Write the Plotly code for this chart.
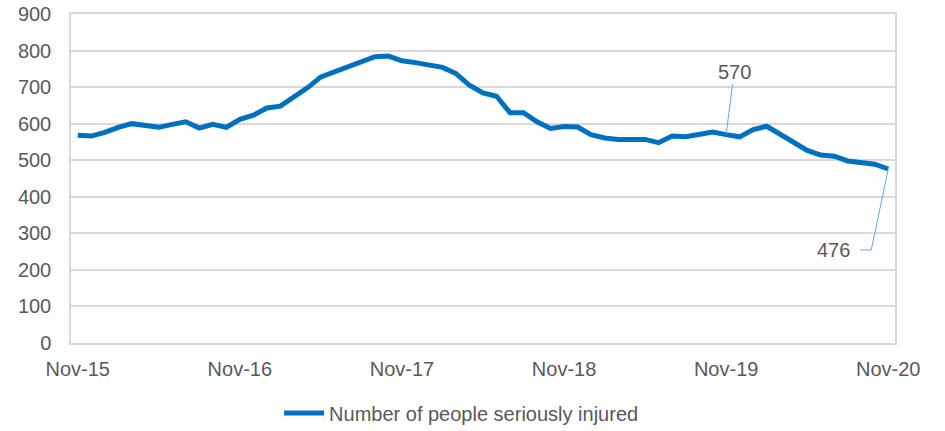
import plotly.graph_objects as go

years = ["15", "16", "17", "18", "19", "20"]
month_names = ["Nov", "Dec", "Jan", "Feb", "Mar", "Apr", "May", "Jun", "Jul", "Aug", "Sep", "Oct"]

# monthly categories Nov-15 .. Nov-20
months = []
for i in range(61):
    m = month_names[i % 12]
    yr = 15 + (i + 10) // 12
    months.append(f"{m}-{yr}")

seriously_injured = [
    568, 566, 576, 590, 600, 596, 590, 598, 605, 588, 598, 590,
    612, 623, 643, 648, 672, 698, 728, 742, 757, 772, 783, 785,
    772, 767, 762, 754, 737, 705, 684, 675, 630, 630, 605, 587,
    592, 591, 570, 561, 557, 557, 557, 548, 566, 564, 569, 577,
    570, 564, 584, 593, 571, 547, 527, 514, 511, 498, 493, 489,
    476,
]

tick_labels = ["Nov-15", "Nov-16", "Nov-17", "Nov-18", "Nov-19", "Nov-20"]
y_ticks = [0, 100, 200, 300, 400, 500, 600, 700, 800, 900]

FONT = "Liberation Sans, Arial, sans-serif"
GRAY = "#595959"
GRID = "#D9D9D9"
LEADER = "#5AA8F2"
FS = 20

fig = go.Figure()
fig.add_trace(go.Scatter(
    x=months, y=seriously_injured, mode="lines",
    name="Number of people seriously injured",
    line=dict(color="#0070C0", width=5),
))

i570 = 48
i476 = 60
fig.add_annotation(
    x=months[i570], y=seriously_injured[i570], text="570",
    showarrow=True, arrowhead=0, arrowwidth=1, arrowcolor=LEADER,
    ax=8, ay=-63, font=dict(size=FS, color=GRAY, family=FONT),
)
fig.add_shape(
    type="path", xref="x", yref="y",
    xsizemode="pixel", ysizemode="pixel",
    xanchor=months[i476], yanchor=seriously_injured[i476],
    path="M0,0 L-17,-81 L-28,-81",
    line=dict(color=LEADER, width=1),
)
fig.add_annotation(
    x=months[i476], y=seriously_injured[i476], text="476",
    showarrow=False, xanchor="right", yanchor="middle",
    xshift=-36, yshift=-81, font=dict(size=FS, color=GRAY, family=FONT),
)

fig.update_layout(
    width=945, height=431,
    margin=dict(l=71, r=50, t=14, b=88, autoexpand=False),
    paper_bgcolor="white", plot_bgcolor="white",
    font=dict(family=FONT, size=FS, color=GRAY),
    showlegend=True,
    legend=dict(orientation="h", x=0.474, xanchor="center",
                yref="container", y=0.042, yanchor="middle",
                font=dict(size=FS, color=GRAY, family=FONT),
                itemwidth=40),
)
fig.update_xaxes(
    type="category", tickmode="array",
    tickvals=tick_labels, ticktext=tick_labels,
    showgrid=False, showline=True, linecolor=GRID, linewidth=1.5, mirror=True,
    ticks="outside", ticklen=7, tickcolor="rgba(0,0,0,0)",
    tickfont=dict(size=FS, color=GRAY, family=FONT),
    range=[-0.5, 60.5], zeroline=False, automargin=False,
)
fig.update_yaxes(
    range=[0, 900], tickvals=y_ticks,
    showgrid=True, gridcolor=GRID, gridwidth=1.5,
    showline=True, linecolor=GRID, linewidth=1.5, mirror=True,
    ticks="outside", ticklen=14, tickcolor="rgba(0,0,0,0)",
    tickfont=dict(size=FS, color=GRAY, family=FONT),
    zeroline=False, automargin=False,
)

fig.write_html("out.html")
